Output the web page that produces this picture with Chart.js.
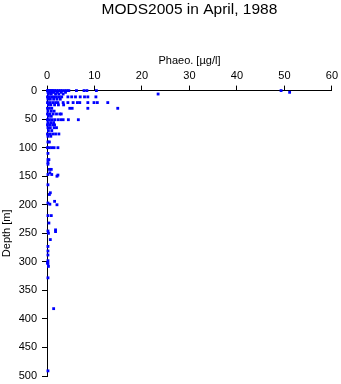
<!DOCTYPE html>
<html>
<head>
<meta charset="utf-8">
<script src="https://cdn.jsdelivr.net/npm/chart.js@4"></script>
<style>
  html, body { margin: 0; padding: 0; background: #fff; }
</style>
</head>
<body>
<canvas id="phaeoChart" width="341" height="384"></canvas>
<script>
// Sample depths (m) and the phaeopigment readings taken at each depth (µg/l)
const sampleDepths = [0, 3, 6, 11, 15, 21, 25, 31, 36, 41, 45, 51, 56, 60, 65, 70, 76, 80, 90, 100,
  110, 121, 126, 129, 138, 144, 147, 148, 150, 165, 179, 182, 194, 197, 199, 200, 219, 232, 244,
  246, 247, 250, 261, 273, 281, 288, 298, 302, 303, 308, 328, 382, 491];
const phaeoReadings = [
  [0.1, 0.3, 0.5, 0.8, 1.0, 1.3, 1.6, 2.0, 2.4, 2.8, 3.2, 3.7, 4.2, 4.6, 6.2, 7.8, 8.4, 10.4, 49.3],
  [0.2, 0.6, 1.1, 1.5, 2.2, 3.0, 3.9, 51.1],
  [0.3, 0.9, 1.8, 2.5, 3.4, 23.4],
  [0.1, 0.5, 1.0, 1.5, 2.0, 2.6, 3.1, 4.4, 5.2, 6.0, 7.0, 7.9, 8.6, 10.3],
  [0.2, 0.7, 1.4, 2.1, 2.8],
  [0.1, 0.6, 1.2, 1.8, 2.3, 3.4, 4.4, 5.5, 6.4, 6.9, 8.6, 9.9, 10.6, 12.8],
  [0.3, 0.8, 1.6, 2.4, 3.5],
  [0.1, 0.5, 1.0, 4.8, 5.3, 8.6, 14.9],
  [0.2, 0.9, 1.5],
  [0.1, 0.6, 1.3, 2.0, 2.7, 3.0],
  [0.3, 0.9],
  [0.1, 0.5, 1.0, 1.6, 2.3, 2.9, 3.4, 4.5, 6.6],
  [0.2, 0.8, 1.4],
  [0.1, 0.6, 1.2, 1.6],
  [0.2, 0.7, 1.5, 2.0],
  [0.3, 1.0],
  [0.1, 0.6, 1.2, 1.8, 2.5],
  [0.2, 0.8],
  [0.2, 0.5],
  [0.1, 0.5, 1.0, 1.5, 2.3],
  [0.2],
  [0.2, 0.4],
  [0.2],
  [0.2],
  [0.9, 0.5],
  [0.6],
  [0.2, 1.0],
  [2.3],
  [2.1],
  [0.2],
  [0.7],
  [0.5],
  [1.6],
  [0.2],
  [0.6],
  [2.1],
  [0.9, 0.2],
  [0.4],
  [1.8],
  [0.2],
  [1.8],
  [0.3],
  [0.7],
  [0.2],
  [0.2],
  [0.2],
  [0.2],
  [0.1],
  [0.2],
  [0.3],
  [0.2],
  [1.4],
  [0.2]
];
const phaeoTicks = [0, 10, 20, 30, 40, 50, 60];
const depthTicks = [0, 50, 100, 150, 200, 250, 300, 350, 400, 450, 500];

const points = [];
sampleDepths.forEach((d, i) => {
  phaeoReadings[i].forEach(v => points.push({ x: v, y: d }));
});

const FONT = "'Liberation Sans', Arial, sans-serif";

const axisCommon = {
  grid: { drawOnChartArea: false, drawTicks: true, tickLength: 5, color: '#000', lineWidth: 1 },
  border: { color: '#000', width: 1 }
};

new Chart(document.getElementById('phaeoChart'), {
  type: 'scatter',
  data: {
    datasets: [{
      data: points,
      pointStyle: 'rect',
      pointRadius: 2,
      pointHoverRadius: 2,
      backgroundColor: '#0000ff',
      borderWidth: 0,
      clip: false
    }]
  },
  options: {
    responsive: false,
    animation: false,
    layout: { padding: { top: 0, right: 9, bottom: 8, left: 0 } },
    plugins: {
      legend: { display: false },
      tooltip: { enabled: false },
      title: {
        display: true,
        fullSize: false, // centre over the plot rather than the canvas
        text: 'MODS2005 in April, 1988',
        color: '#000',
        font: { family: FONT, size: 15.5, weight: 'normal' },
        padding: { top: 0, bottom: 0 }
      }
    },
    scales: {
      x: {
        ...axisCommon,
        type: 'linear',
        position: 'top',
        min: 0,
        max: 60,
        afterBuildTicks: s => { s.ticks = phaeoTicks.map(v => ({ value: v })); },
        ticks: { color: '#000', font: { family: FONT, size: 11 }, padding: 3, maxRotation: 0 },
        title: {
          display: true, text: 'Phaeo. [µg/l]', color: '#000',
          font: { family: FONT, size: 11 }, padding: { top: 36, bottom: 0 }
        },
        afterFit: s => { s.height = 72; }
      },
      y: {
        ...axisCommon,
        type: 'linear',
        reverse: true,
        min: 0,
        max: 500,
        afterBuildTicks: s => { s.ticks = depthTicks.map(v => ({ value: v })); },
        ticks: { color: '#000', font: { family: FONT, size: 11 }, padding: 5 },
        title: {
          display: true, text: 'Depth [m]', color: '#000',
          font: { family: FONT, size: 11 }, padding: { top: 0, bottom: 0 }
        },
        // fixed axis width; the 500 label may hang into the bottom margin
        afterFit: s => { s.width = 47; s.paddingBottom = 0; }
      }
    }
  }
});
</script>
</body>
</html>
